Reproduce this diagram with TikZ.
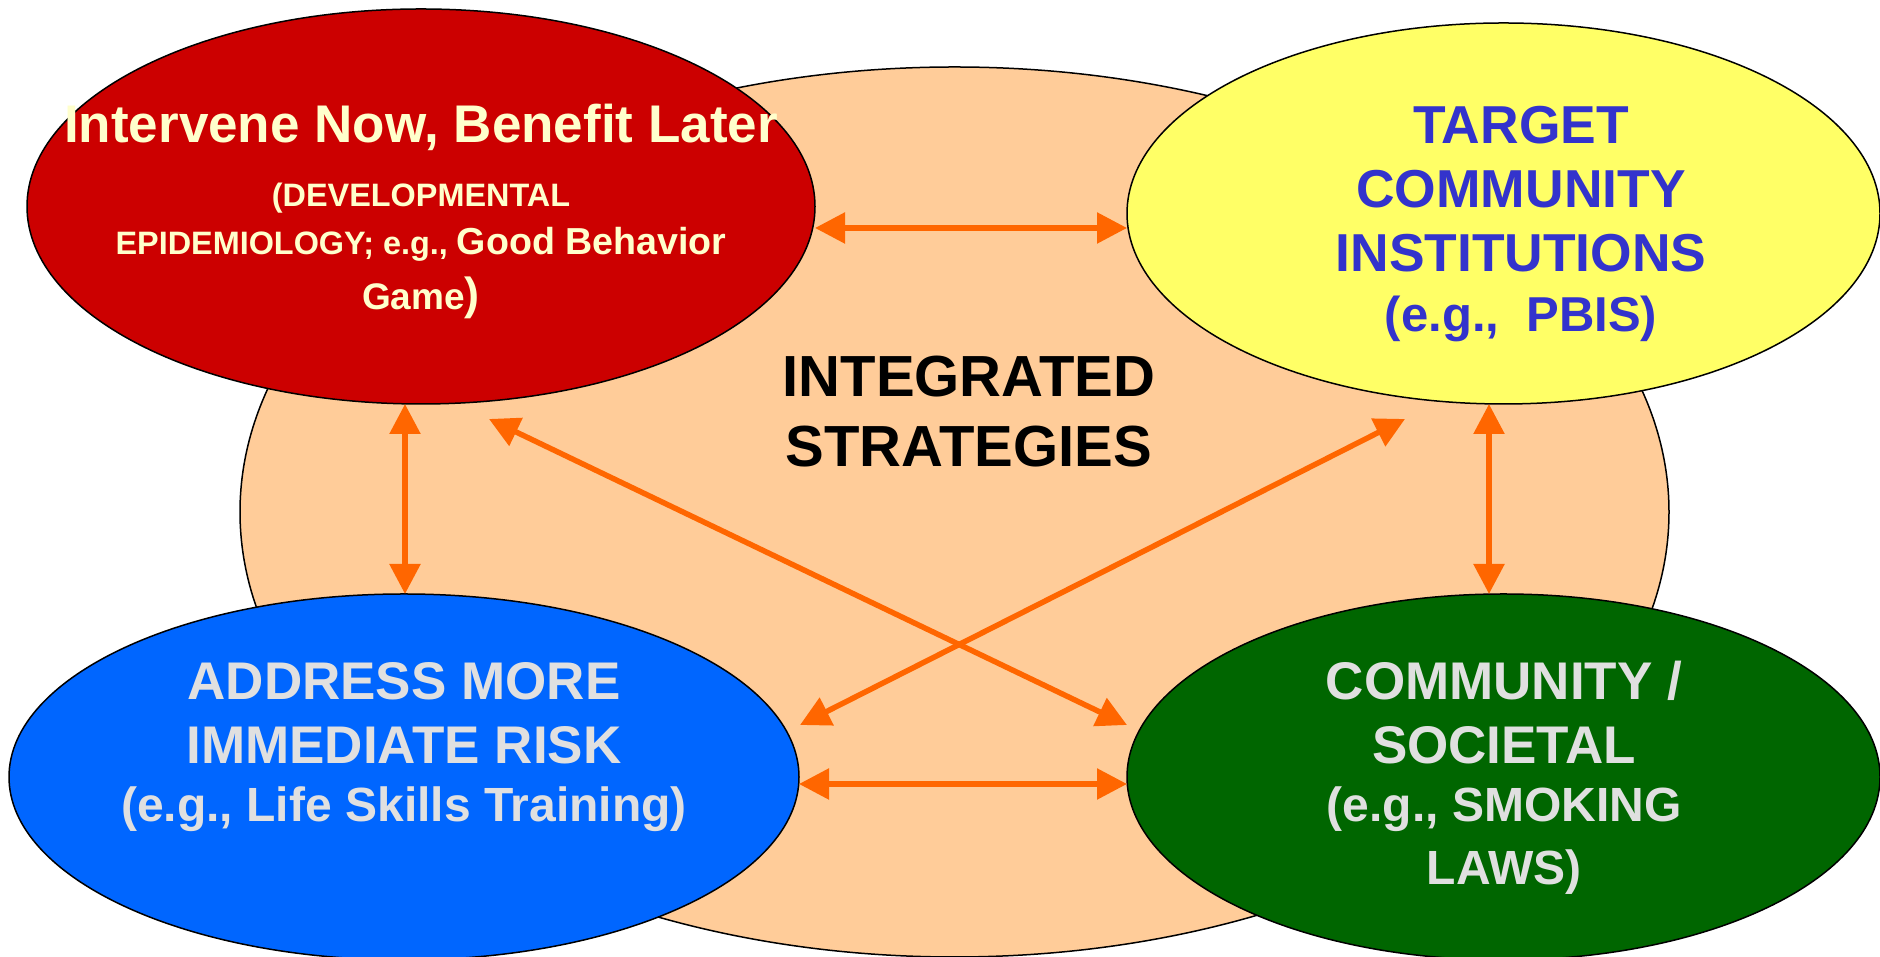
\documentclass[tikz,border=0pt]{standalone}
\usepackage{fontspec}
\setmainfont{Liberation Sans}
\usetikzlibrary{arrows.meta}
\usetikzlibrary{shapes.geometric}
\definecolor{peach}{HTML}{FFCC99}
\definecolor{ellred}{HTML}{CC0000}
\definecolor{ellyellow}{HTML}{FFFF66}
\definecolor{ellblue}{HTML}{0066FF}
\definecolor{ellgreen}{HTML}{006600}
\definecolor{arrorange}{HTML}{FF6600}
\definecolor{cream}{HTML}{FFFFCC}
\definecolor{inkblue}{HTML}{3333CC}
\definecolor{palegrey}{HTML}{E0E0E0}

\begin{document}
\begin{tikzpicture}[x=0.5pt,y=0.5pt,line join=round,>={Triangle[length=15pt,width=15pt]},
    blob/.style={ellipse,draw=black,line width=0.75pt,inner sep=0pt,outer sep=0pt},
    link/.style={<->,draw=arrorange,line width=2.75pt},
    txt/.style={align=center,anchor=base,inner sep=0pt}]
        \useasboundingbox (0,0) rectangle (1880,957);
        % ellipses
        \node[blob,fill=peach,minimum width=714.5pt,minimum height=445pt] (core) at (954.5,445) {};
        \node[blob,fill=ellred,minimum width=394pt,minimum height=197.5pt] (red) at (421,750.5) {};
        \node[blob,fill=ellyellow,minimum width=376.5pt,minimum height=190.5pt] (yellow) at (1503.5,743.5) {};
        \node[blob,fill=ellblue,minimum width=395pt,minimum height=183pt] (blue) at (404,180) {};
        \node[blob,fill=ellgreen,minimum width=376.5pt,minimum height=183pt] (green) at (1503.5,180) {};
        % arrows between neighbours
        \draw[link] ([yshift=-10.75pt]red.east) -- ([yshift=-10.75pt]red.east -| yellow.west);
        \draw[link] ([yshift=-3.5pt]blue.east) -- ([yshift=-3.5pt]blue.east -| green.west);
        \draw[link] ([xshift=-8pt]red.south) -- ([xshift=-8pt]red.south |- blue.north);
        \draw[link] ([xshift=-7.25pt]yellow.south) -- ([xshift=-7.25pt]yellow.south |- green.north);
        % free ends of the crossing arrows
        \coordinate (redtip) at (489,538);
        \coordinate (greentip) at (1127,232);
        \coordinate (yellowtip) at (1405,538);
        \coordinate (bluetip) at (800,232);
        \foreach \a/\b in {redtip/greentip,yellowtip/bluetip}
        \draw[link] (\a) -- (\b);
        % texts
        \node[txt,text=cream,font=\bfseries\fontsize{16.2}{24}\selectfont] (redtxt) at (421,647)
            {{\fontsize{26.5}{32}\selectfont Intervene Now, Benefit Later}\\[8pt]
             (DEVELOPMENTAL\\
             EPIDEMIOLOGY; e.g., {\fontsize{18.8}{24}\selectfont Good Behavior}\\[3.5pt]
             {\fontsize{18.5}{24}\selectfont Game}{\fontsize{22.5}{24}\selectfont)}};
        \node[txt,text=inkblue,font=\bfseries\fontsize{26.7}{32}\selectfont] (yellowtxt) at (1521,625)
            {TARGET\\ COMMUNITY\\ INSTITUTIONS\\[-2pt] {\fontsize{24.5}{32}\selectfont (e.g.,\ \ PBIS)}};
        \node[txt,text=palegrey,font=\bfseries\fontsize{26.5}{32}\selectfont] (bluetxt) at (404,135)
            {ADDRESS MORE\\ IMMEDIATE RISK\\[-3pt] {\fontsize{24}{32}\selectfont (e.g., Life Skills Training)}};
        \node[txt,text=palegrey,font=\bfseries\fontsize{26.5}{32}\selectfont] (greentxt) at (1504,72)
            {COMMUNITY /\\ SOCIETAL\\[-3pt] {\fontsize{24}{32}\selectfont (e.g., SMOKING}\\[-0.5pt] {\fontsize{24}{32}\selectfont LAWS)}};
        \node[txt,font=\bfseries\fontsize{29}{35}\selectfont] (coretxt) at (969,490) {INTEGRATED\\ STRATEGIES};
\end{tikzpicture}
\end{document}
